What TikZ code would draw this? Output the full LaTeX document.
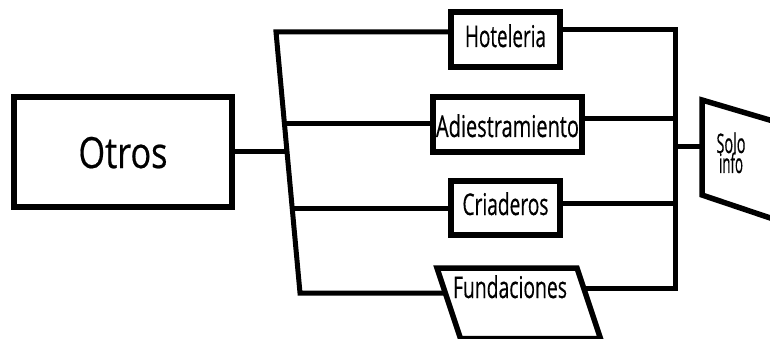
\documentclass[tikz,border=0pt]{standalone}
\usepackage{fontspec}
\setmainfont[UprightFeatures={FakeBold=0.5}]{Open Sans}
\usepackage{graphicx}
\newsavebox{\fitbox}
\newcommand{\fitw}[2]{\sbox{\fitbox}{#2}\resizebox{#1}{\ht\fitbox}{\usebox{\fitbox}}}
\begin{document}
\begin{tikzpicture}[x=1pt,y=-1pt,
  box/.style={draw,line width=5.5pt,inner sep=0pt,line join=miter},
  conn/.style={line width=5pt,line join=miter},
  big/.style={font=\fontsize{43}{43}\selectfont},
  mid/.style={font=\fontsize{30}{30}\selectfont},
  sml/.style={font=\fontsize{27}{27}\selectfont}]
\useasboundingbox (0,0) rectangle (770,339);
\clip (0,0) rectangle (770,339);
% boxes
\node[box,big,minimum width=218pt,minimum height=110pt,text height=32pt,text depth=0pt] (otros) at (123,152) {\fitw{89pt}{Otros}};
\node[box,mid,minimum width=109pt,minimum height=55pt,text height=15pt,text depth=0pt] (hot) at (505.5,39.5) {\fitw{81pt}{Hoteleria}};
\node[box,mid,minimum width=149pt,minimum height=55pt,text height=25pt,text depth=0pt] (adi) at (507.5,124.5) {\fitw{143pt}{Adiestramiento}};
\node[box,mid,minimum width=109pt,minimum height=54pt,text height=14pt,text depth=0pt] (cri) at (505.5,208) {\fitw{86pt}{Criaderos}};
% Fundaciones parallelogram
\draw[box] (437,268) -- (577,268) -- (600.5,338.5) -- (460.5,338.5) -- cycle;
\node[mid,anchor=base,inner sep=0pt] (fund) at (510,298) {\fitw{114pt}{Fundaciones}};
\coordinate (fl) at (445.3,293);
\coordinate (fr) at (583.7,288);
% Solo info shape
\draw[box] (800,129) -- (702,100) -- (702,195) -- (800,228);
\coordinate (sw) at (702,147);
\node[sml,anchor=base,inner sep=0pt] (soloinfo) at (731,153) {\makebox[30pt]{\fitw{29pt}{Solo}}\llap{\makebox[30pt]{\raisebox{-20pt}{\fitw{24pt}{info}}}}};
% left bus
\coordinate (lt) at (276,32);
\coordinate (lb) at (300,293);
\coordinate (j0) at (287,152);
\coordinate (j1) at (284.5,124);
\coordinate (j2) at (292.2,208);
\draw[conn] (otros.east |- j0) -- (j0);
\draw[conn] (hot.west |- lt) -- (lt) -- (lb) -- (fl);
\draw[conn] (j1) -- (j1 -| adi.west);
\draw[conn] (j2) -- (j2 -| cri.west);
% right bus
\coordinate (rt) at (675,30);
\coordinate (rb) at (675,288);
\coordinate (ra) at (675,119);
\coordinate (rc) at (675,203);
\coordinate (rs) at (675,147);
\draw[conn] (hot.east |- rt) -- (rt) -- (rb) -- (fr);
\draw[conn] (ra -| adi.east) -- (ra);
\draw[conn] (rc -| cri.east) -- (rc);
\draw[conn] (rs) -- (sw);
\end{tikzpicture}
\end{document}
